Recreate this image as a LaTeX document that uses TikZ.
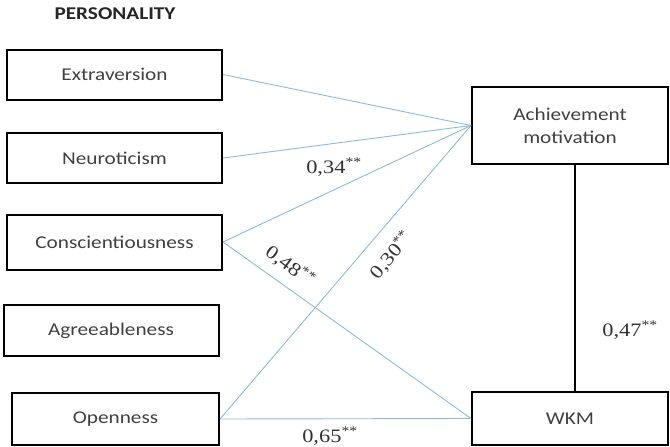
\documentclass[tikz,border=0pt]{standalone}
\usepackage{fontspec}
\setmainfont[FakeStretch=1.18]{Liberation Serif}
\newfontfamily\boxfont[FakeStretch=1.18]{Carlito}
\begin{document}
\begin{tikzpicture}[x=1pt,y=-1pt,
  box/.style={draw=black,line width=2pt,minimum width=215pt,minimum height=50pt,inner sep=0pt,
    font=\boxfont\fontsize{18}{23}\selectfont,text=black!75,align=center},
  rbox/.style={box,minimum width=196pt},
  link/.style={draw={rgb,255:red,140;green,185;blue,222},line width=0.9pt},
  bond/.style={draw=black,line width=2.4pt},
  coef/.style={font=\fontsize{19}{22}\selectfont,text=black!80,inner sep=0pt}]
\useasboundingbox (0,0) rectangle (670,447);
\node[font=\boxfont\bfseries\fontsize{18}{20}\selectfont,text=black!85] (title) at (115,14) {PERSONALITY};
\node[box] (ext) at (114.5,74.5) {Extraversion};
\node[box] (neu) at (114.5,158) {Neuroticism};
\node[box,minimum height=55pt] (con) at (114.5,242) {Conscientiousness};
\node[box,minimum height=51pt] (agr) at (111,330.5) {Agreeableness};
\node[box,minimum width=207pt,minimum height=52pt] (ope) at (115.5,419) {Openness};
\node[rbox,minimum height=77pt] (ach) at (570,125.5) {Achievement\\motivation};
\node[rbox,minimum height=53pt] (wkm) at (570,418.5) {WKM};
\draw[link] (ext.east) -- (ach.west);
\draw[link] (neu.east) -- (ach.west);
\draw[link] (con.east) -- (ach.west);
\draw[link] (con.east) -- (wkm.west);
\draw[link] (ope.east) -- (ach.west);
\draw[link] (ope.east) -- (wkm.west);
\draw[bond] (ach.south -| 575,0) -- (wkm.north -| 575,0);
\node[coef] (c34) at (334,167) {0,34\textsuperscript{**}};
\node[coef,rotate=-36] (c48) at (290,266) {0,48\textsuperscript{**}};
\node[coef,rotate=50] (c30) at (391,255) {0,30\textsuperscript{**}};
\node[coef] (c47) at (630,330) {0,47\textsuperscript{**}};
\node[coef] (c65) at (330,436) {0,65\textsuperscript{**}};
\end{tikzpicture}
\end{document}
